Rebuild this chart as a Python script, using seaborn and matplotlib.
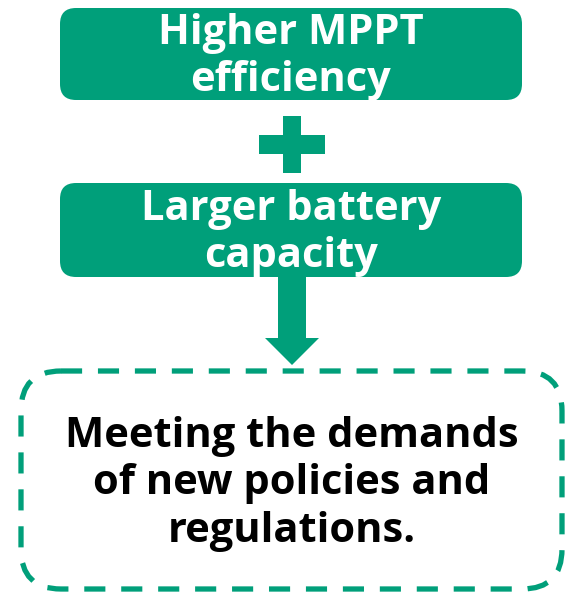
import seaborn as sns
import matplotlib.pyplot as plt
from matplotlib.patches import FancyBboxPatch, Rectangle, Polygon

# texts of the flow diagram
step_labels = ['Higher MPPT\nefficiency', 'Larger battery\ncapacity']
result_label = 'Meeting the demands\nof new policies and\nregulations.'

green = '#009f7a'

sns.set_theme(style='white')
plt.rcParams['font.family'] = ['Open Sans', 'DejaVu Sans']

W, H = 568, 593
fig = plt.figure(figsize=(W / 100, H / 100), dpi=100)
ax = fig.add_axes([0, 0, 1, 1])
ax.set_xlim(0, W)
ax.set_ylim(H, 0)
ax.axis('off')

# solid green boxes (x, y_top, width, height)
boxes = [(60, 8, 462, 92), (60, 183, 462, 94)]
for (bx, by, bw, bh), label in zip(boxes, step_labels):
    ax.add_patch(FancyBboxPatch((bx, by), bw, bh,
                                boxstyle='round,pad=0,rounding_size=16',
                                fc=green, ec='none'))
    ax.text(bx + bw / 2, by + bh / 2 + 3, label, color='white', fontsize=30,
            fontweight='bold', ha='center', va='center', linespacing=1.22)

# plus sign
cx = 292
ax.add_patch(Rectangle((cx - 9, 116), 18, 57, fc=green, ec='none'))
ax.add_patch(Rectangle((cx - 33, 135), 66, 19, fc=green, ec='none'))

# down arrow
ax.add_patch(Polygon([(cx - 14, 277), (cx + 14, 277), (cx + 14, 338),
                      (cx + 27, 338), (cx, 365), (cx - 27, 338),
                      (cx - 14, 338)], closed=True, fc=green, ec='none'))

# dashed result box
ax.add_patch(FancyBboxPatch((21, 371), 541, 218,
                            boxstyle='round,pad=0,rounding_size=40',
                            fc='none', ec=green, lw=3.8,
                            linestyle=(0, (4, 3))))
ax.text(292, 484, result_label, color='black', fontsize=30,
        fontweight='bold', ha='center', va='center', linespacing=1.22)

plt.savefig('out.png', dpi=100)
